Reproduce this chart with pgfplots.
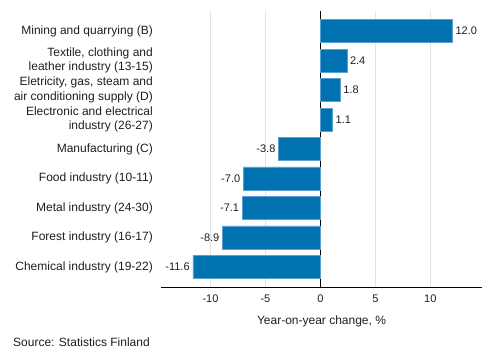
\documentclass[border=0pt]{standalone}
\usepackage{pgfplots}
\pgfplotsset{compat=1.18}
\usepackage{fontspec}
\setmainfont{Liberation Sans}
\definecolor{barc}{RGB}{0,114,176}
\definecolor{bare}{RGB}{90,160,210}
\definecolor{gridc}{RGB}{225,225,225}
\definecolor{txt}{RGB}{30,30,30}
\begin{document}
\begin{tikzpicture}
\path[use as bounding box] (-161bp,-73bp) rectangle (332bp,287bp);
\begin{axis}[
  at={(0,0)}, anchor=south west,
  scale only axis, width=321bp, height=276bp,
  xbar, bar width=23bp,
  xmin=-14.5, xmax=14.7,
  ymin=-0.68, ymax=8.68,
  y dir=reverse,
  ytick={0,...,8},
  yticklabels={Mining and quarrying (B),{Textile, clothing and\\leather industry (13-15)},{Eletricity, gas, steam and\\air conditioning supply (D)},{Electronic and electrical\\industry (26-27)},Manufacturing (C),Food industry (10-11),Metal industry (24-30),Forest industry (16-17),Chemical industry (19-22)},
  yticklabel style={align=right, font=\fontsize{12bp}{14.5bp}\selectfont, text=txt, inner sep=0pt, xshift=-8bp},
  xtick={-10,-5,0,5,10},
  xticklabel style={font=\fontsize{11bp}{13bp}\selectfont, text=txt, inner sep=0pt, yshift=-8bp},
  /pgf/number format/assume math mode=true,
  major tick length=0pt,
  axis x line*=bottom, axis y line*=left,
  y axis line style={draw=none},
  x axis line style={black, line width=0.8bp},
  xmajorgrids, grid style={gridc, line width=1bp},
  extra x ticks={0}, extra x tick labels={},
  extra x tick style={grid style={black, line width=0.8bp}},
  xlabel={Year-on-year change, \%},
  xlabel style={font=\fontsize{12bp}{14bp}\selectfont, text=txt, at={(axis description cs:0.5,0)}, anchor=center, yshift=-34.7bp},
  nodes near coords={\pgfmathprintnumber[fixed,fixed zerofill,precision=1,assume math mode=true]{\pgfplotspointmeta}},
  nodes near coords align={horizontal},
  every node near coord/.append style={font=\fontsize{11bp}{13bp}\selectfont, text=txt, inner sep=3bp},
  clip=false,
]
\addplot[fill=barc, draw=bare, line width=0.5bp] coordinates {
(12.0,0) (2.4,1) (1.8,2) (1.1,3) (-3.8,4) (-7.0,5) (-7.1,6) (-8.9,7) (-11.6,8)
};
\end{axis}
\node[anchor=west, font=\fontsize{12bp}{14bp}\selectfont, text=txt, inner sep=0pt] at (-148bp,-55.7bp) {Source: Statistics Finland};
\end{tikzpicture}
\end{document}
